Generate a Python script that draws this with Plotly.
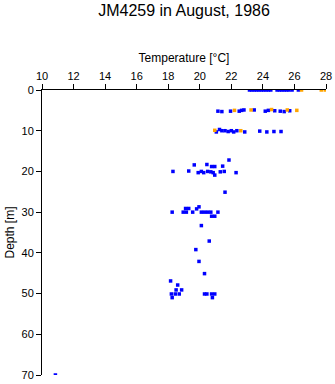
import plotly.graph_objects as go

# Blue measurements (temperature °C, depth m)
blue_temp = [
    23.15, 23.3, 23.45, 23.6, 23.75, 23.9, 24.05, 24.2, 24.35, 24.5,
    24.9, 25.05, 25.2, 25.35, 25.5, 25.65, 25.85, 26.25,
    21.15, 21.4, 21.95, 22.5, 22.65, 22.8, 23.45, 24.15, 24.35, 24.75, 25.1, 25.35, 25.7,
    21.05, 21.25, 21.4, 21.6, 21.8, 22.0, 22.15, 22.35, 22.85, 23.8, 24.25, 24.7, 25.15,
    21.85, 19.65, 20.45, 20.75, 20.95, 21.45, 18.3, 19.3, 19.9, 20.1, 20.25, 20.5,
    20.7, 20.85, 20.95, 21.3, 21.55, 22.3, 21.6,
    19.95, 19.8, 19.1, 19.3, 18.25, 18.95, 19.15, 19.55, 20.1, 20.3, 20.5, 20.7,
    21.15, 20.75, 20.95, 20.1, 20.6, 19.75, 19.95, 20.3, 18.15, 18.6, 18.5, 18.85,
    18.2, 18.45, 18.7, 20.3, 20.45, 20.75, 20.95, 18.25, 20.8, 10.85,
]
blue_depth = [
    0, 0, 0, 0, 0, 0, 0, 0, 0, 0,
    0, 0, 0, 0, 0, 0, 0, 0,
    5.2, 5.3, 5.2, 5.2, 5.0, 4.9, 4.9, 5.2, 5.0, 5.1, 5.2, 5.3, 5.1,
    10.3, 9.7, 10.0, 10.0, 10.2, 10.0, 10.3, 10.0, 10.3, 10.1, 10.3, 10.2, 10.2,
    17.2, 18.4, 18.3, 18.8, 18.8, 18.7, 20.0, 19.9, 20.3, 20.0, 20.3, 20.0,
    20.1, 20.3, 20.9, 20.1, 20.0, 20.3, 25.1,
    28.7, 29.2, 29.1, 29.1, 30.0, 30.0, 30.0, 30.0, 30.0, 30.0, 30.0, 30.0,
    30.0, 31.0, 31.0, 33.3, 37.1, 39.2, 42.1, 45.1, 46.9, 47.9, 49.1, 49.1,
    50.1, 50.1, 50.1, 50.1, 50.1, 50.1, 50.1, 51.0, 51.0, 70.0,
]

# Orange measurements
orange_temp = [26.45, 27.7, 27.95, 22.2, 23.25, 24.55, 25.55, 26.15, 20.95, 22.6]
orange_depth = [0, 0, 0, 5.0, 4.9, 4.8, 4.9, 5.0, 9.9, 10.0]

title_text = "JM4259 in August, 1986"
x_title = "Temperature [°C]"
y_title = "Depth [m]"

fig = go.Figure()
fig.add_trace(go.Scatter(
    x=blue_temp, y=blue_depth, mode="markers",
    marker=dict(symbol="square", size=3.5, color="#0000FF", line=dict(width=0)),
    showlegend=False, hoverinfo="x+y",
))
fig.add_trace(go.Scatter(
    x=orange_temp, y=orange_depth, mode="markers",
    marker=dict(symbol="square", size=3.5, color="#FFA500", line=dict(width=0)),
    showlegend=False, hoverinfo="x+y",
))

font_family = "Liberation Sans, Arial, sans-serif"
fig.update_layout(
    width=335, height=384,
    margin=dict(l=42, r=9, t=90, b=9),
    paper_bgcolor="white", plot_bgcolor="white",
    font=dict(family=font_family, color="black", size=11),
    title=dict(text=title_text, x=0.5, xref="paper", y=1 - 10 / 384,
               yref="container", yanchor="middle", xanchor="center",
               font=dict(size=16, family=font_family, color="black")),
    xaxis=dict(
        side="top", range=[10, 28], dtick=2, tick0=10,
        ticks="outside", ticklen=5, tickwidth=1, tickcolor="black",
        showline=True, linecolor="black", linewidth=1,
        showgrid=False, zeroline=False, automargin=False,
        tickfont=dict(size=11),
        title=dict(text=x_title, font=dict(size=12), standoff=4),
    ),
    yaxis=dict(
        range=[70, 0], dtick=10, tick0=0,
        ticks="outside", ticklen=5, tickwidth=1, tickcolor="black",
        showline=True, linecolor="black", linewidth=1,
        showgrid=False, zeroline=False, automargin=False,
        tickfont=dict(size=11),
        title=dict(text=y_title, font=dict(size=12), standoff=4),
    ),
)

fig.write_html("out.html")
